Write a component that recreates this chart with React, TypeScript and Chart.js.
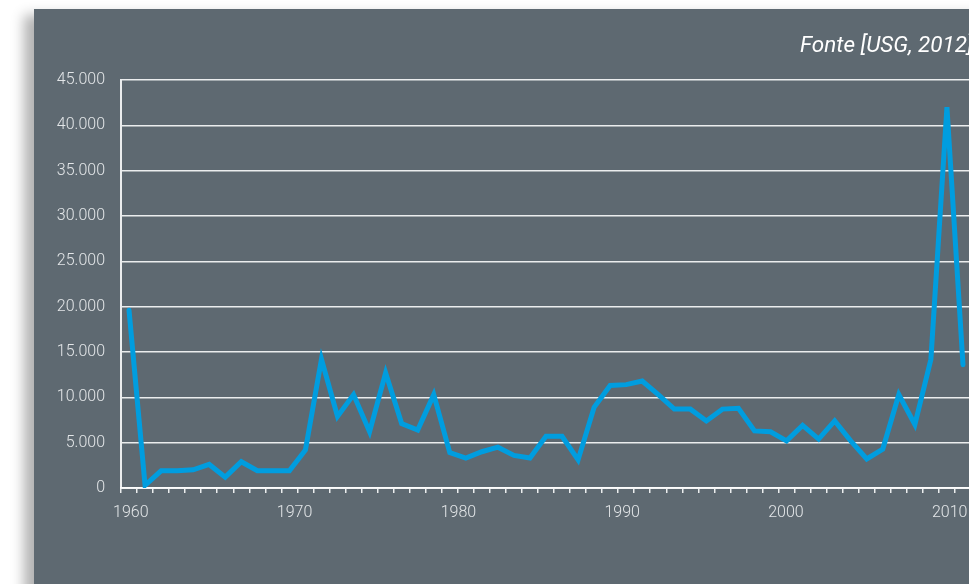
import { useEffect, useRef } from 'react';
import { Chart, registerables } from 'chart.js';

Chart.register(...registerables);

// Yearly series, one point per category slot.
const years = [
  '1960', '1961', '1962', '1963', '1964', '1965', '1966', '1967', '1968', '1969',
  '1970', '1971', '1972', '1973', '1974', '1975', '1976', '1977', '1978', '1979',
  '1980', '1981', '1982', '1983', '1984', '1985', '1986', '1987', '1988', '1989',
  '1990', '1991', '1992', '1993', '1994', '1995', '1996', '1997', '1998', '1999',
  '2000', '2001', '2002', '2003', '2004', '2005', '2006', '2007', '2008', '2009',
  '2010', '2011', '2012',
];

const values = [
  19600, 300, 1900, 1900, 2000, 2600, 1200, 2900, 1900, 1900,
  1900, 4200, 14200, 7900, 10300, 6200, 12700, 7100, 6400, 10300,
  3900, 3300, 4000, 4500, 3600, 3300, 5700, 5700, 3100, 8900,
  11300, 11400, 11800, 10300, 8700, 8700, 7400, 8700, 8800, 6300,
  6200, 5200, 6900, 5400, 7400, 5200, 3200, 4300, 10300, 7000,
  14200, 42000, 13600,
];

// Decade labels shown along the bottom.
const decadeTicks = [1960, 1970, 1980, 1990, 2000, 2010];

// Value axis ticks.
const yTicks = [0, 5000, 10000, 15000, 20000, 25000, 30000, 35000, 40000, 45000];

const SOURCE = 'Fonte [USG, 2012]';

const PANEL_BG = '#5e6971';
const LINE_COLOR = '#009ddf';
const RULE_COLOR = 'rgba(255,255,255,0.88)';
const TEXT_COLOR = '#e3e6e8';
const TICK_FONT = { family: 'Roboto', size: 16, weight: 300 as const };

const formatThousands = (v: number) =>
  String(v).replace(/\B(?=(\d{3})+(?!\d))/g, '.');

export default function App() {
  const canvasRef = useRef<HTMLCanvasElement>(null);

  useEffect(() => {
    if (!canvasRef.current) return;
    const chart = new Chart(canvasRef.current, {
      type: 'line',
      data: {
        labels: years,
        datasets: [
          {
            data: values,
            borderColor: LINE_COLOR,
            borderWidth: 5,
            borderJoinStyle: 'miter',
            borderCapStyle: 'round',
            pointRadius: 0,
            pointHoverRadius: 0,
            tension: 0,
            fill: false,
          },
        ],
      },
      options: {
        responsive: false,
        animation: false,
        layout: { padding: { top: 71, right: 23, bottom: 0, left: 0 } },
        plugins: {
          legend: { display: false },
          tooltip: { enabled: false },
        },
        scales: {
          x: {
            type: 'category',
            position: 'bottom',
            offset: true,
            weight: 0,
            grid: {
              offset: true,
              drawOnChartArea: false,
              drawTicks: true,
              tickLength: 5,
              color: RULE_COLOR,
              lineWidth: 1.5,
            },
            border: { display: true, color: RULE_COLOR, width: 2 },
            ticks: { display: false },
          },
          yearAxis: {
            type: 'linear',
            axis: 'x',
            position: 'bottom',
            weight: 1,
            min: 1959.4,
            max: 2011.3,
            afterBuildTicks: (scale: any) => {
              scale.ticks = decadeTicks.map((v) => ({ value: v }));
            },
            afterFit: (scale: any) => {
              scale.height = 91;
            },
            grid: { display: false, drawTicks: false },
            border: { display: false },
            ticks: {
              color: TEXT_COLOR,
              font: TICK_FONT,
              padding: 10,
              autoSkip: false,
              maxRotation: 0,
              callback: (v: any) => String(v),
            },
          },
          y: {
            type: 'linear',
            min: 0,
            max: 45000,
            afterBuildTicks: (scale: any) => {
              scale.ticks = yTicks.map((v) => ({ value: v }));
            },
            afterFit: (scale: any) => {
              scale.width = 87;
            },
            grid: { color: RULE_COLOR, lineWidth: 1.5, drawTicks: false },
            border: { display: true, color: RULE_COLOR, width: 2 },
            ticks: {
              color: TEXT_COLOR,
              font: TICK_FONT,
              padding: 16,
              callback: (v: any) => formatThousands(Number(v)),
            },
          },
        },
      },
    });
    return () => chart.destroy();
  }, []);

  return (
    <div style={{ position: 'fixed', inset: 0, overflow: 'hidden', background: '#ffffff' }}>
      <div
        style={{
          position: 'absolute',
          left: 34,
          top: 9,
          width: 960,
          height: 600,
          background: PANEL_BG,
          boxShadow: '-10px 6px 12px rgba(0,0,0,0.3)',
        }}
      >
        <canvas ref={canvasRef} width={960} height={575} style={{ display: 'block' }} />
        <span
          style={{
            position: 'absolute',
            left: 766,
            top: 24,
            fontFamily: 'Roboto',
            fontStyle: 'italic',
            fontSize: 22.5,
            lineHeight: 1,
            color: '#ffffff',
            whiteSpace: 'nowrap',
          }}
        >
          {SOURCE}
        </span>
      </div>
    </div>
  );
}
